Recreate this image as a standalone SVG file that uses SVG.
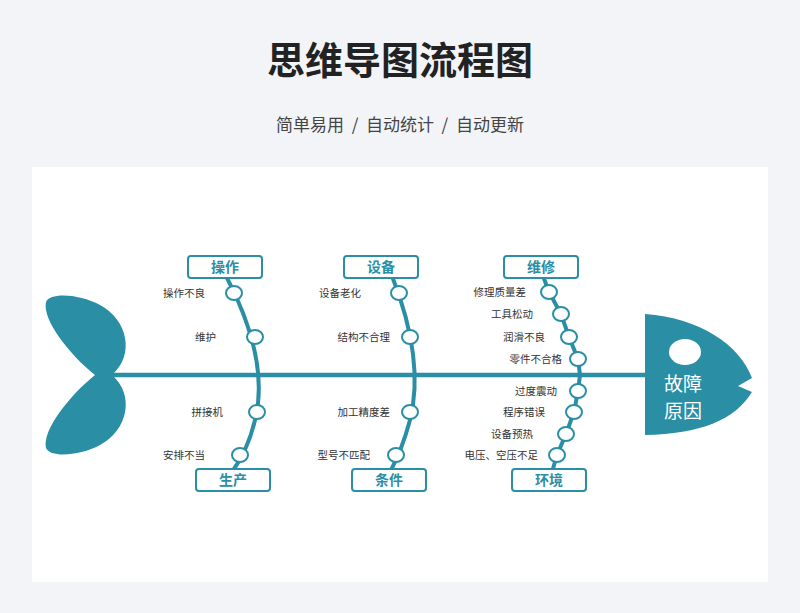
<svg xmlns="http://www.w3.org/2000/svg" width="800" height="613" viewBox="0 0 800 613">
<style>
.t{font-family:"Noto Sans CJK SC","Noto Sans",sans-serif}
.bone{fill:none;stroke:#2a8ea5;stroke-width:4}
.dot{fill:#fff;stroke:#2a8ea5;stroke-width:2}
.box{fill:#fff;stroke:#2a8ea5;stroke-width:2}
.bl{font-size:14px;font-weight:bold;fill:#2a8ea5;text-anchor:middle}
.lb{font-size:10.5px;fill:#333;text-anchor:end}
</style>
<rect width="800" height="613" fill="#f2f4f7"/>
<text class="t" x="400" y="74" font-size="38" font-weight="bold" fill="#222" text-anchor="middle">思维导图流程图</text>
<text class="t" x="400" y="131" font-size="17" fill="#444" text-anchor="middle" xml:space="preserve">简单易用  /  自动统计  /  自动更新</text>
<rect x="32" y="167" width="736" height="415" fill="#fff"/>
<g id="connectors">
<line x1="110" y1="375" x2="650" y2="375" stroke="#2a8ea5" stroke-width="4.5"/>
<path class="bone" d="M226,276 Q270,360 255,420 Q248,450 232,472"/>
<path class="bone" d="M392,276 Q425,360 410,420 Q402,450 390,472"/>
<path class="bone" d="M543,276 L549,292 L561,314 L569,337 L578,359 L580,375 L578,391 L574,412 L566,434 L557,455 L552,472"/>
</g>
<g id="tail"><path d="M112,375 C135,355 128,320 100,305 C80,294 50,292 46,302 C42,320 70,355 95,375 C70,395 42,430 46,448 C50,458 80,456 100,445 C128,430 135,395 112,375 Z" fill="#2a8ea5"/></g>
<g id="head">
<path d="M645,314 C700,318 740,345 752,378 L738,386 L752,392 C735,420 700,434 645,435 Z" fill="#2a8ea5"/>
<ellipse cx="685" cy="352" rx="16" ry="13" fill="#fff"/>
<text class="t" x="683" y="391" font-size="19" fill="#fff" text-anchor="middle">故障</text>
<text class="t" x="683" y="418" font-size="19" fill="#fff" text-anchor="middle">原因</text>
</g>
<g id="b1">
<rect class="box" x="188" y="256" width="74" height="22" rx="3"/><text class="t bl" x="225" y="272">操作</text>
<rect class="box" x="196" y="469" width="74" height="22" rx="3"/><text class="t bl" x="233" y="485">生产</text>
<ellipse class="dot" cx="234" cy="293" rx="8" ry="7"/><text class="t lb" x="205" y="297">操作不良</text>
<ellipse class="dot" cx="255" cy="337" rx="8" ry="7"/><text class="t lb" x="216" y="341">维护</text>
<ellipse class="dot" cx="257" cy="412" rx="8" ry="7"/><text class="t lb" x="223" y="416">拼接机</text>
<ellipse class="dot" cx="240" cy="455" rx="8" ry="7"/><text class="t lb" x="205" y="459">安排不当</text>
</g>
<g id="b2">
<rect class="box" x="344" y="256" width="74" height="22" rx="3"/><text class="t bl" x="381" y="272">设备</text>
<rect class="box" x="352" y="469" width="74" height="22" rx="3"/><text class="t bl" x="389" y="485">条件</text>
<ellipse class="dot" cx="399" cy="293" rx="8" ry="7"/><text class="t lb" x="361" y="297">设备老化</text>
<ellipse class="dot" cx="410" cy="337" rx="8" ry="7"/><text class="t lb" x="390" y="341">结构不合理</text>
<ellipse class="dot" cx="410" cy="412" rx="8" ry="7"/><text class="t lb" x="390" y="416">加工精度差</text>
<ellipse class="dot" cx="396" cy="455" rx="8" ry="7"/><text class="t lb" x="370" y="459">型号不匹配</text>
</g>
<g id="b3">
<rect class="box" x="504" y="256" width="74" height="22" rx="3"/><text class="t bl" x="541" y="272">维修</text>
<rect class="box" x="512" y="469" width="74" height="22" rx="3"/><text class="t bl" x="549" y="485">环境</text>
<ellipse class="dot" cx="549" cy="292" rx="8" ry="7"/><text class="t lb" x="526" y="296">修理质量差</text>
<ellipse class="dot" cx="561" cy="314" rx="8" ry="7"/><text class="t lb" x="533" y="318">工具松动</text>
<ellipse class="dot" cx="569" cy="337" rx="8" ry="7"/><text class="t lb" x="545" y="341">润滑不良</text>
<ellipse class="dot" cx="578" cy="359" rx="8" ry="7"/><text class="t lb" x="562" y="363">零件不合格</text>
<ellipse class="dot" cx="578" cy="391" rx="8" ry="7"/><text class="t lb" x="557" y="395">过度震动</text>
<ellipse class="dot" cx="574" cy="412" rx="8" ry="7"/><text class="t lb" x="545" y="416">程序错误</text>
<ellipse class="dot" cx="566" cy="434" rx="8" ry="7"/><text class="t lb" x="533" y="438">设备预热</text>
<ellipse class="dot" cx="557" cy="455" rx="8" ry="7"/><text class="t lb" x="538" y="459">电压、空压不足</text>
</g>
</svg>
